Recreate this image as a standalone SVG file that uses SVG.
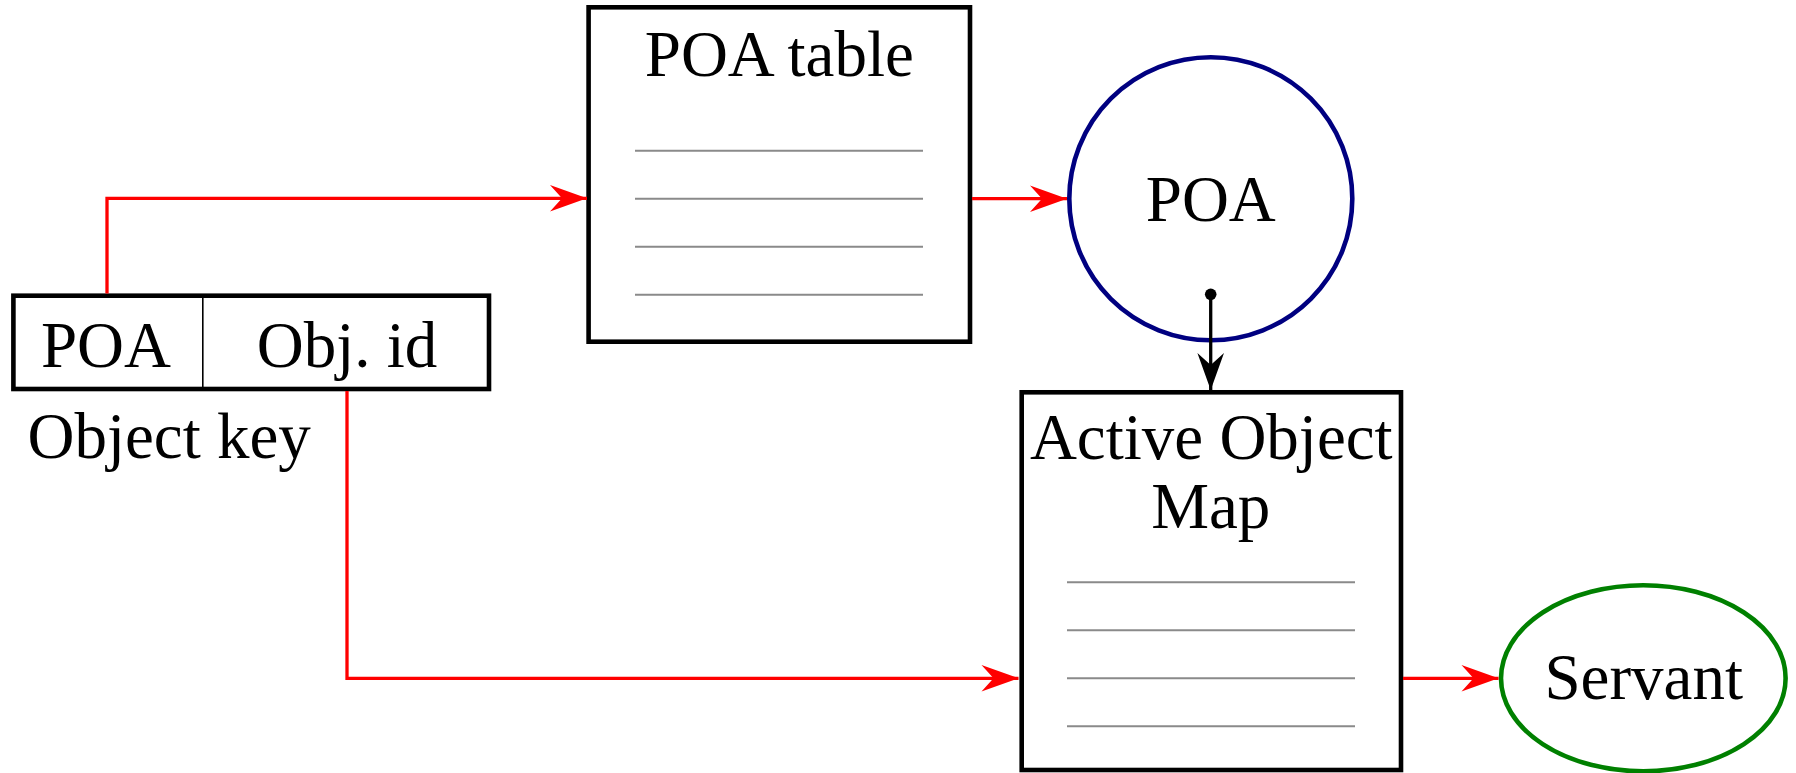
<svg xmlns="http://www.w3.org/2000/svg" width="1796" height="773" viewBox="0 0 1796 773">
<style>
text{font-family:"Liberation Serif","Times New Roman",serif;font-size:65px;fill:#000;text-anchor:middle}
.box{fill:#fff;stroke:#000;stroke-width:4.6}
.row{stroke:#8a8a8a;stroke-width:2}
.red{fill:none;stroke:#ff0000;stroke-width:3.3}
.blk{fill:none;stroke:#000;stroke-width:3.3}
</style>
<defs>
<marker id="ar" markerUnits="userSpaceOnUse" viewBox="-38 -14 40 28" refX="0" refY="0" markerWidth="40" markerHeight="28" orient="auto">
<path d="M0,0 L-37,-13.3 L-25,0 L-37,13.3 Z" fill="#ff0000"/>
</marker>
<marker id="ak" markerUnits="userSpaceOnUse" viewBox="-38 -14 40 28" refX="0" refY="0" markerWidth="40" markerHeight="28" orient="auto">
<path d="M0,0 L-37,-13.3 L-25,0 L-37,13.3 Z" fill="#000"/>
</marker>
<marker id="dot" markerUnits="userSpaceOnUse" viewBox="-7 -7 14 14" refX="0" refY="0" markerWidth="14" markerHeight="14">
<circle cx="0" cy="0" r="5.8" fill="#000"/>
</marker>
</defs>
<rect width="1796" height="773" fill="#fff"/>
<g id="object-key">
<rect class="box" x="13.4" y="295.7" width="475.6" height="93.3"/>
<line x1="202.8" y1="295.7" x2="202.8" y2="389" stroke="#000" stroke-width="1.6"/>
<text x="106" y="366.7">POA</text>
<text x="347" y="366.7">Obj. id</text>
<text x="27.5" y="458" style="text-anchor:start">Object key</text>
</g>
<g id="poa-table">
<rect class="box" x="588.6" y="7.3" width="381.4" height="334.4"/>
<text x="779.3" y="76">POA table</text>
<line class="row" x1="635" y1="150.7" x2="923" y2="150.7"/>
<line class="row" x1="635" y1="198.7" x2="923" y2="198.7"/>
<line class="row" x1="635" y1="246.7" x2="923" y2="246.7"/>
<line class="row" x1="635" y1="294.7" x2="923" y2="294.7"/>
</g>
<g id="poa">
<circle cx="1210.8" cy="198.7" r="141.5" fill="#fff" stroke="#000080" stroke-width="4.6"/>
<text x="1210.8" y="220.7">POA</text>
</g>
<g id="active-object-map">
<rect class="box" x="1021.7" y="392.3" width="379.3" height="377.7"/>
<text x="1211.3" y="459.3">Active Object</text>
<text x="1210.8" y="528.3">Map</text>
<line class="row" x1="1067" y1="582.3" x2="1355" y2="582.3"/>
<line class="row" x1="1067" y1="630.3" x2="1355" y2="630.3"/>
<line class="row" x1="1067" y1="678.3" x2="1355" y2="678.3"/>
<line class="row" x1="1067" y1="726.3" x2="1355" y2="726.3"/>
</g>
<g id="servant">
<ellipse cx="1643.3" cy="678.3" rx="142.3" ry="93" fill="#fff" stroke="#008000" stroke-width="4.6"/>
<text x="1643.7" y="699.3">Servant</text>
</g>
<g id="connectors">
<path class="red" d="M107,293.5 V198.3 H587" marker-end="url(#ar)"/>
<path class="red" d="M972,198.7 H1067" marker-end="url(#ar)"/>
<path class="red" d="M347,391 V678.3 H1018.5" marker-end="url(#ar)"/>
<path class="red" d="M1403,678.3 H1498.5" marker-end="url(#ar)"/>
<path class="blk" d="M1210.7,294.3 V390" marker-start="url(#dot)" marker-end="url(#ak)"/>
</g>
</svg>
